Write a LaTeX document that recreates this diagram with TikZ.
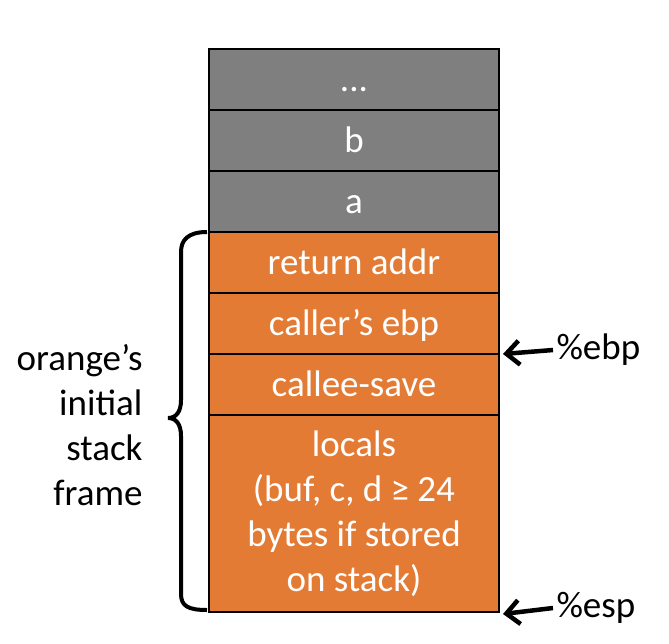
\documentclass[tikz,border=0pt]{standalone}
\usepackage{fontspec}
\setmainfont{Carlito}
\usetikzlibrary{positioning,arrows.meta}
\definecolor{slotgray}{RGB}{127,127,127}
\definecolor{frameorange}{RGB}{227,123,52}
\tikzset{
  slot/.style={draw=black, line width=2pt, minimum width=290pt, text=white,
    inner sep=0pt, outer sep=0pt, align=center},
  caller/.style={slot, fill=slotgray, minimum height=61pt, text height=27pt, text depth=4pt},
  callee/.style={slot, fill=frameorange, minimum height=61pt, text height=27pt, text depth=4pt},
  regarrow/.style={line width=4.5pt, -{Straight Barb[length=13pt,width=24pt]}},
}
\begin{document}
\begin{tikzpicture}[x=1pt, y=-1pt, font=\fontsize{37}{45}\selectfont]
    \useasboundingbox (0,0) rectangle (669,643);

    % Stack slots, top to bottom
    \node[caller] (dots) at (354,79.5) {...};
    \node[caller, below=0pt of dots] (argb) {b};
    \node[caller, below=0pt of argb] (arga) {a};
    \node[callee, below=0pt of arga] (ret) {return addr};
    \node[callee, below=0pt of ret] (savedebp) {caller’s ebp};
    \node[callee, below=0pt of savedebp] (calleesave) {callee-save};
    \node[slot, fill=frameorange, below=0pt of calleesave, minimum height=197pt] (locals)
        {locals\\(buf, c, d ≥ 24\\bytes if stored\\on stack)};

    % Frame brace and its label
    \draw[line width=4pt]
        ([xshift=-2pt]ret.north west) .. controls +(-19,0) and (181,240) .. (181,252)
        -- (181,400) .. controls (181,412) and (176,418) .. (168,418)
        .. controls (176,418) and (181,424) .. (181,436)
        -- (181,594) .. controls (181,606) and (188,610) .. ([xshift=-2pt,yshift=2pt]locals.south west);
    \node[anchor=east, align=right] (framelbl) at (146,425) {orange’s\\initial\\stack\\frame};

    % Register pointers
    \node[anchor=west] (ebp) at (553,350) {\%ebp};
    \node[anchor=west] (esp) at (553,608) {\%esp};
    \draw[regarrow] (ebp.west) -- ([xshift=4pt]savedebp.south east);
    \draw[regarrow] (esp.west) -- ([xshift=4pt,yshift=-2pt]locals.south east);
\end{tikzpicture}
\end{document}
